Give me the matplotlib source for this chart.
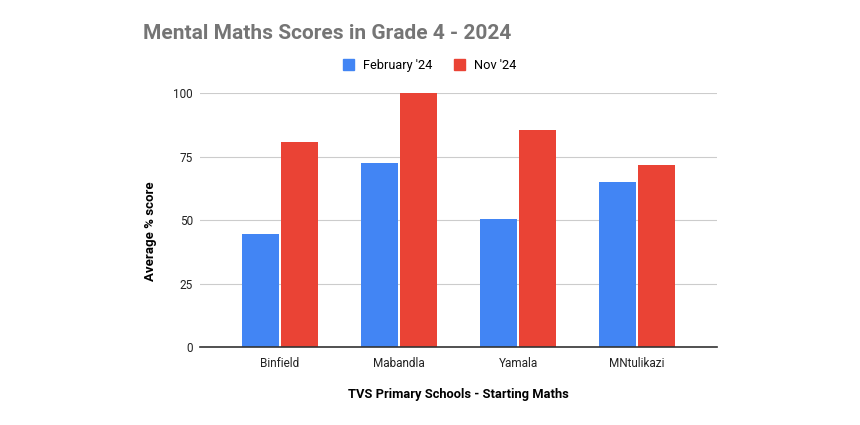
import matplotlib
matplotlib.use("Agg")
import numpy as np
from matplotlib import pyplot as plt
from matplotlib.patches import Patch

plt.rcParams['font.family'] = ['Roboto', 'DejaVu Sans']

schools = ["Binfield", "Mabandla", "Yamala", "MNtulikazi"]
feb_scores = [44.6, 72.7, 50.6, 65.0]
nov_scores = [80.7, 100, 85.7, 71.7]
yticks = [0, 25, 50, 75, 100]

blue = "#4285F4"
red = "#EA4335"

fig = plt.figure(figsize=(8.6, 4.25), dpi=100)
ax = fig.add_axes([200/860, 1-347.3/425, (717-200)/860, 254/425])

x = np.arange(len(schools))
w = 0.31
ax.bar(x - 0.164, feb_scores, w, color=blue, zorder=3, clip_on=False)
ax.bar(x + 0.164, nov_scores, w, color=red, zorder=3, clip_on=False)

ax.set_xlim(-0.672, 3.672)
ax.set_ylim(0, 100)
ax.set_yticks(yticks)
ax.set_xticks(x)
ax.set_xticklabels(schools)
ax.tick_params(axis='both', length=0, labelsize=8.5, colors="#222222")
ax.tick_params(axis='y', pad=5)
ax.tick_params(axis='x', pad=7)
ax.grid(axis='y', color="#cccccc", linewidth=0.8, zorder=0)
for s in ['top', 'right', 'left']:
    ax.spines[s].set_visible(False)
ax.spines['bottom'].set_color("#333333")
ax.spines['bottom'].set_linewidth(1.2)
ax.spines['bottom'].set_zorder(4)

ax.set_ylabel("Average % score", fontsize=9.5, fontweight='bold')
ax.yaxis.set_label_coords(-0.084, 0.456)
ax.set_xlabel("TVS Primary Schools - Starting Maths", fontsize=9.3, fontweight='bold')
ax.xaxis.set_label_coords(0.5, -0.162)

fig.text(143/860, 1-39/425, "Mental Maths Scores in Grade 4 - 2024", fontsize=15,
         fontweight='bold', color="#757575", va='baseline', ha='left')

handles = [Patch(color=blue, label="February '24"), Patch(color=red, label="Nov '24")]
fig.legend(handles=handles, loc='center', bbox_to_anchor=(430/860, 1-65.5/425), ncol=2,
           frameon=False, fontsize=9.2, handlelength=0.86, handleheight=1.0,
           columnspacing=1.7, handletextpad=0.7)

plt.savefig("out.png", dpi=100)
